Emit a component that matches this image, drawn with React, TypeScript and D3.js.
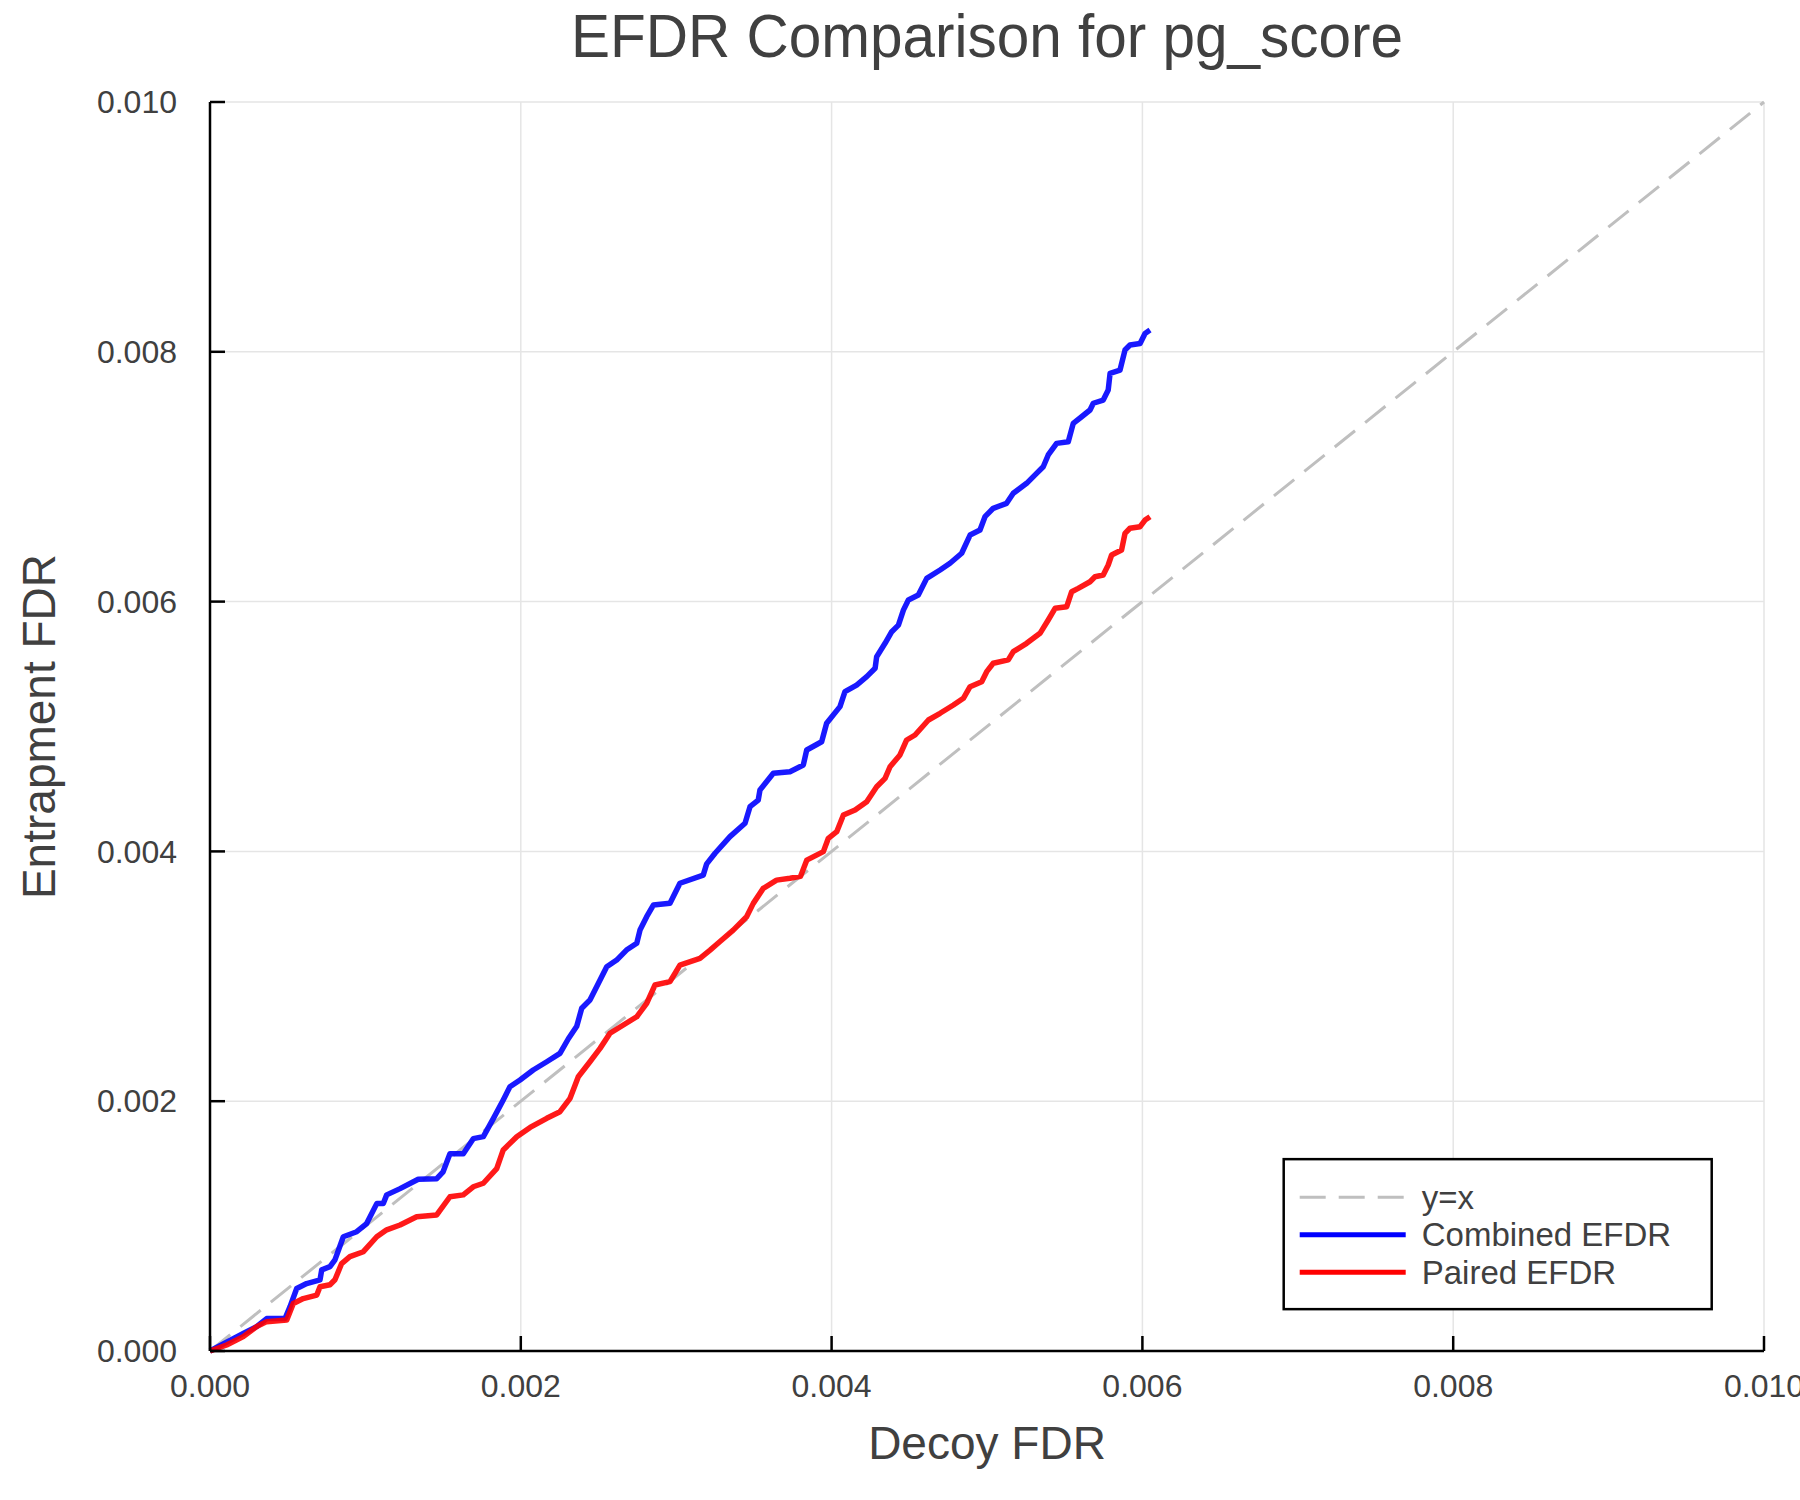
import * as d3 from 'd3';

const WIDTH = 1800;
const HEIGHT = 1500;
const MARGIN = { top: 102, right: 36, bottom: 149, left: 210 };
const FONT = '"Liberation Sans", Arial, Helvetica, sans-serif';
const TEXT_COLOR = '#404040';

// axis ticks
const TICKS = [0, 0.002, 0.004, 0.006, 0.008, 0.01];
const TICK_LABELS = ['0.000', '0.002', '0.004', '0.006', '0.008', '0.010'];

// Combined EFDR (decoy FDR -> entrapment FDR)
const combinedX = [
  0, 0.000214, 0.0003, 0.000365, 0.000483, 0.000515, 0.000558, 0.000622, 0.000708, 0.000719,
  0.000772, 0.000804, 0.000858, 0.000944, 0.001008, 0.001073, 0.001115, 0.001137, 0.001223, 0.00134,
  0.001459, 0.0015, 0.001544, 0.00163, 0.001694, 0.001759, 0.001823, 0.001887, 0.00193, 0.001995,
  0.00208, 0.002167, 0.002252, 0.002306, 0.00236, 0.002392, 0.002445, 0.00251, 0.002553, 0.002617,
  0.00268, 0.002746, 0.002767, 0.00281, 0.002853, 0.00296, 0.003024, 0.003174, 0.003196, 0.00325,
  0.003346, 0.003443, 0.003475, 0.003528, 0.003539, 0.003625, 0.003732, 0.003818, 0.00384, 0.003936,
  0.003968, 0.004054, 0.004086, 0.004161, 0.004226, 0.00428, 0.00429, 0.004344, 0.004387, 0.00443,
  0.004462, 0.004494, 0.004558, 0.004612, 0.004698, 0.004762, 0.004837, 0.004891, 0.004955, 0.004987,
  0.00504, 0.005126, 0.005169, 0.005255, 0.005319, 0.005362, 0.005394, 0.005448, 0.005523, 0.005555,
  0.005609, 0.005663, 0.005684, 0.005748, 0.00578, 0.005792, 0.005856, 0.005888, 0.00592, 0.005985,
  0.006017, 0.006049,
];
const combinedY = [
  0, 0.000141, 0.000195, 0.00026, 0.00026, 0.000355, 0.0005, 0.00054, 0.00057, 0.00065,
  0.000675, 0.00073, 0.000915, 0.000955, 0.00102, 0.00118, 0.00118, 0.00125, 0.0013, 0.001375,
  0.00138, 0.001435, 0.00158, 0.00158, 0.0017, 0.001716, 0.00186, 0.00201, 0.002116, 0.00217,
  0.00225, 0.002316, 0.002383, 0.0025, 0.0026, 0.002744, 0.00281, 0.00297, 0.003077, 0.00313,
  0.00321, 0.003264, 0.00337, 0.003477, 0.00357, 0.003585, 0.003745, 0.00381, 0.0039, 0.003985,
  0.004118, 0.004225, 0.004358, 0.004411, 0.004492, 0.004625, 0.004638, 0.004692, 0.004812, 0.004878,
  0.005026, 0.005159, 0.005279, 0.005332, 0.005399, 0.005466, 0.005559, 0.005666, 0.005759, 0.005812,
  0.005932, 0.006013, 0.006053, 0.006186, 0.006253, 0.006307, 0.006387, 0.006533, 0.006573, 0.00668,
  0.006747, 0.006787, 0.006867, 0.006947, 0.007027, 0.00708, 0.007174, 0.007267, 0.00728, 0.007427,
  0.00748, 0.007534, 0.007588, 0.007614, 0.007694, 0.007828, 0.007854, 0.008014, 0.008054, 0.008067,
  0.008147, 0.008174,
];

// Paired EFDR
const pairedX = [
  0, 0.000107, 0.000214, 0.0003, 0.000365, 0.000494, 0.000536, 0.0006, 0.000687, 0.000708,
  0.000772, 0.000804, 0.000847, 0.0009, 0.000987, 0.001073, 0.001137, 0.001223, 0.00133, 0.001459,
  0.001544, 0.00163, 0.001694, 0.001759, 0.001845, 0.001887, 0.001974, 0.00206, 0.002167, 0.002252,
  0.002317, 0.00237, 0.002445, 0.00251, 0.002574, 0.00266, 0.002746, 0.00281, 0.002863, 0.00296,
  0.003024, 0.003153, 0.003218, 0.00328, 0.003367, 0.003453, 0.003496, 0.00356, 0.003646, 0.003732,
  0.0038, 0.00384, 0.003947, 0.003979, 0.004033, 0.004076, 0.004151, 0.004226, 0.00429, 0.004344,
  0.004376, 0.00444, 0.004483, 0.004537, 0.004623, 0.004698, 0.004784, 0.004848, 0.004891, 0.004966,
  0.004998, 0.00504, 0.005137, 0.005169, 0.005255, 0.005341, 0.005394, 0.005438, 0.005513, 0.005545,
  0.005587, 0.005663, 0.005695, 0.005748, 0.00578, 0.005802, 0.005866, 0.005888, 0.00592, 0.005985,
  0.006017, 0.006049,
];
const pairedY = [
  0, 0.000048, 0.000115, 0.000195, 0.000235, 0.000248, 0.00038, 0.00042, 0.000448, 0.000515,
  0.00053, 0.00057, 0.0007, 0.000755, 0.000795, 0.000915, 0.00097, 0.001009, 0.001075, 0.001089,
  0.001235, 0.00125, 0.001315, 0.001343, 0.00146, 0.00161, 0.001716, 0.00179, 0.001863, 0.001916,
  0.002023, 0.002196, 0.002316, 0.002423, 0.002544, 0.00261, 0.002676, 0.002784, 0.00293, 0.002957,
  0.00309, 0.003144, 0.00321, 0.003277, 0.00337, 0.003477, 0.003584, 0.003704, 0.00377, 0.003785,
  0.0038, 0.00393, 0.003998, 0.004105, 0.004158, 0.004292, 0.004332, 0.004398, 0.004518, 0.004585,
  0.004678, 0.004772, 0.004892, 0.004932, 0.005052, 0.005106, 0.005172, 0.005226, 0.005319, 0.005359,
  0.005439, 0.005506, 0.005533, 0.005599, 0.005666, 0.005746, 0.005853, 0.005946, 0.005959, 0.006079,
  0.006106, 0.006159, 0.006199, 0.006213, 0.006293, 0.006373, 0.006413, 0.006546, 0.006587, 0.0066,
  0.006653, 0.00668,
];

const identityLine = [0, 0.01];

const LEGEND = [
  { label: 'y=x', color: '#bfbfbf', dash: '26 13' },
  { label: 'Combined EFDR', color: '#0000ff', dash: null },
  { label: 'Paired EFDR', color: '#ff0000', dash: null },
];

export default function App() {
  const boundsWidth = WIDTH - MARGIN.left - MARGIN.right;
  const boundsHeight = HEIGHT - MARGIN.top - MARGIN.bottom;

  const xScale = d3.scaleLinear().domain([0, 0.01]).range([0, boundsWidth]);
  const yScale = d3.scaleLinear().domain([0, 0.01]).range([boundsHeight, 0]);

  const line = d3
    .line<[number, number]>()
    .x(d => xScale(d[0]))
    .y(d => yScale(d[1]));

  const combined = combinedX.map((x, i) => [x, combinedY[i]] as [number, number]);
  const paired = pairedX.map((x, i) => [x, pairedY[i]] as [number, number]);
  const diag = identityLine.map(v => [v, v] as [number, number]);

  // legend box, inside the plot area (bottom right)
  const legendX = xScale(0.00689) + 3;
  const legendY = yScale(0.00156) + 3;
  const legendW = 428;
  const legendH = 150;

  return (
    <svg
      width={WIDTH}
      height={HEIGHT}
      style={{ position: 'absolute', left: 0, top: 0, background: '#fff' }}
      fontFamily={FONT}
    >
      <rect width={WIDTH} height={HEIGHT} fill="#fff" />
      <text
        x={MARGIN.left + boundsWidth / 2}
        y={57}
        textAnchor="middle"
        fontSize={61}
        textLength={832}
        lengthAdjust="spacingAndGlyphs"
        fill={TEXT_COLOR}
      >
        EFDR Comparison for pg_score
      </text>

      <g transform={`translate(${MARGIN.left},${MARGIN.top})`}>
        {/* grid */}
        {TICKS.map((t, i) => (
          <g key={'g' + i}>
            <line x1={xScale(t)} x2={xScale(t)} y1={0} y2={boundsHeight} stroke="#e5e5e5" strokeWidth={1.5} />
            <line x1={0} x2={boundsWidth} y1={yScale(t)} y2={yScale(t)} stroke="#e5e5e5" strokeWidth={1.5} />
          </g>
        ))}

        {/* series */}
        <path d={line(diag) ?? ''} fill="none" stroke="#bfbfbf" strokeWidth={3} strokeDasharray="26 13" />
        <path d={line(combined) ?? ''} fill="none" stroke="#0000ff" strokeOpacity={0.9} strokeWidth={5.5} strokeLinejoin="round" />
        <path d={line(paired) ?? ''} fill="none" stroke="#ff0000" strokeOpacity={0.9} strokeWidth={5.5} strokeLinejoin="round" />

        {/* axes */}
        <line x1={0} x2={boundsWidth} y1={boundsHeight} y2={boundsHeight} stroke="#000" strokeWidth={2.5} />
        <line x1={0} x2={0} y1={0} y2={boundsHeight} stroke="#000" strokeWidth={2.5} />
        {TICKS.map((t, i) => (
          <g key={'t' + i}>
            <line x1={xScale(t)} x2={xScale(t)} y1={boundsHeight} y2={boundsHeight - 15} stroke="#000" strokeWidth={2.5} />
            <text x={xScale(t)} y={boundsHeight + 46} textAnchor="middle" fontSize={32} fill={TEXT_COLOR}>
              {TICK_LABELS[i]}
            </text>
            <line x1={0} x2={15} y1={yScale(t)} y2={yScale(t)} stroke="#000" strokeWidth={2.5} />
            <text x={-33} y={yScale(t)} dy="0.35em" textAnchor="end" fontSize={32} fill={TEXT_COLOR}>
              {TICK_LABELS[i]}
            </text>
          </g>
        ))}

        {/* legend */}
        <rect x={legendX} y={legendY} width={legendW} height={legendH} fill="#fff" stroke="#000" strokeWidth={2.5} />
        {LEGEND.map((d, i) => {
          const ly = legendY + 38 + i * 37.5;
          return (
            <g key={'l' + i}>
              <line
                x1={legendX + 16}
                x2={legendX + 122}
                y1={ly}
                y2={ly}
                stroke={d.color}
                strokeWidth={d.dash ? 3 : 5}
                strokeDasharray={d.dash ?? undefined}
              />
              <text x={legendX + 138} y={ly} dy="0.35em" fontSize={33} fill={TEXT_COLOR}>
                {d.label}
              </text>
            </g>
          );
        })}
      </g>

      <text
        x={MARGIN.left + boundsWidth / 2}
        y={1459}
        textAnchor="middle"
        fontSize={46}
        fill={TEXT_COLOR}
      >
        Decoy FDR
      </text>
      <text
        transform={`translate(55,${MARGIN.top + boundsHeight / 2}) rotate(-90)`}
        textAnchor="middle"
        fontSize={46}
        fill={TEXT_COLOR}
      >
        Entrapment FDR
      </text>
    </svg>
  );
}
